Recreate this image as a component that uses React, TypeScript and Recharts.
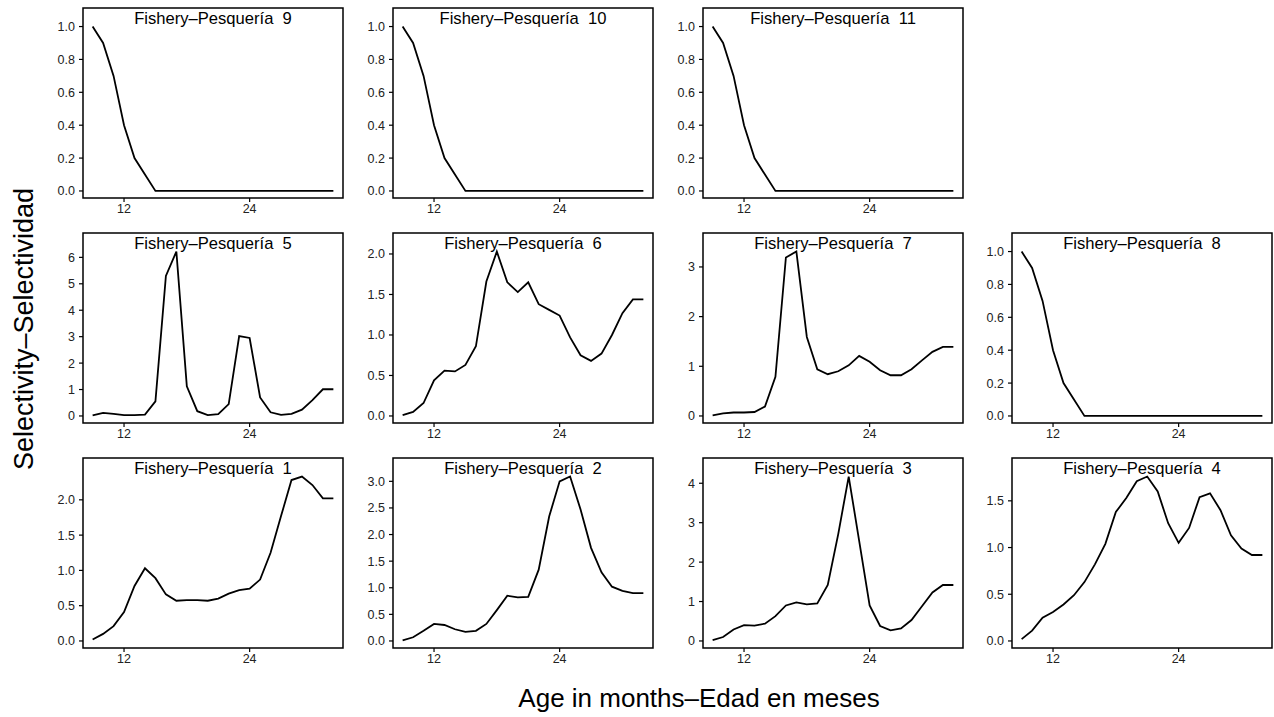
import React from 'react';
import { LineChart, Line, XAxis, YAxis, ReferenceArea } from 'recharts';

// Age in months (x values)
const AGES = [9, 10, 11, 12, 13, 14, 15, 16, 17, 18, 19, 20, 21, 22, 23, 24, 25, 26, 27, 28, 29, 30, 31, 32];

// Selectivity by fishery
const F1 = [0.02, 0.1, 0.21, 0.41, 0.78, 1.03, 0.89, 0.66, 0.57, 0.58, 0.58, 0.57, 0.6, 0.67, 0.72, 0.74, 0.87, 1.25, 1.77, 2.28, 2.33, 2.21, 2.02, 2.02];
const F2 = [0.01, 0.07, 0.19, 0.32, 0.3, 0.22, 0.17, 0.19, 0.32, 0.58, 0.85, 0.82, 0.83, 1.34, 2.34, 3.0, 3.09, 2.47, 1.75, 1.29, 1.02, 0.94, 0.9, 0.9];
const F3 = [0.02, 0.1, 0.29, 0.4, 0.39, 0.44, 0.63, 0.9, 0.98, 0.93, 0.95, 1.42, 2.71, 4.17, 2.54, 0.9, 0.38, 0.27, 0.32, 0.53, 0.88, 1.23, 1.42, 1.42];
const F4 = [0.02, 0.11, 0.25, 0.31, 0.39, 0.49, 0.63, 0.82, 1.04, 1.38, 1.53, 1.71, 1.76, 1.6, 1.26, 1.05, 1.21, 1.54, 1.58, 1.4, 1.13, 0.99, 0.92, 0.92];
const F5 = [0.02, 0.12, 0.08, 0.03, 0.03, 0.05, 0.55, 5.3, 6.22, 1.12, 0.18, 0.03, 0.07, 0.45, 3.02, 2.95, 0.7, 0.14, 0.04, 0.08, 0.24, 0.6, 1.01, 1.01];
const F6 = [0.01, 0.05, 0.16, 0.44, 0.56, 0.55, 0.63, 0.86, 1.66, 2.03, 1.65, 1.53, 1.65, 1.38, 1.31, 1.24, 0.97, 0.75, 0.68, 0.77, 1.0, 1.27, 1.44, 1.44];
const F7 = [0.01, 0.05, 0.07, 0.07, 0.08, 0.19, 0.79, 3.19, 3.31, 1.59, 0.94, 0.84, 0.9, 1.02, 1.21, 1.09, 0.92, 0.82, 0.82, 0.94, 1.12, 1.29, 1.39, 1.39];
const F8 = [1.0, 0.9, 0.7, 0.4, 0.2, 0.1, 0, 0, 0, 0, 0, 0, 0, 0, 0, 0, 0, 0, 0, 0, 0, 0, 0, 0];
const F9 = [1.0, 0.9, 0.7, 0.4, 0.2, 0.1, 0, 0, 0, 0, 0, 0, 0, 0, 0, 0, 0, 0, 0, 0, 0, 0, 0, 0];
const F10 = [1.0, 0.9, 0.7, 0.4, 0.2, 0.1, 0, 0, 0, 0, 0, 0, 0, 0, 0, 0, 0, 0, 0, 0, 0, 0, 0, 0];
const F11 = [1.0, 0.9, 0.7, 0.4, 0.2, 0.1, 0, 0, 0, 0, 0, 0, 0, 0, 0, 0, 0, 0, 0, 0, 0, 0, 0, 0];

// Tick labels
const X_TICKS = [12, 24];
const Y_TICKS_UNIT = [0, 0.2, 0.4, 0.6, 0.8, 1.0];
const Y_TICKS_HALF_2 = [0, 0.5, 1.0, 1.5, 2.0];
const Y_TICKS_HALF_3 = [0, 0.5, 1.0, 1.5, 2.0, 2.5, 3.0];
const Y_TICKS_HALF_15 = [0, 0.5, 1.0, 1.5];
const Y_TICKS_INT_3 = [0, 1, 2, 3];
const Y_TICKS_INT_4 = [0, 1, 2, 3, 4];
const Y_TICKS_INT_6 = [0, 1, 2, 3, 4, 5, 6];

const TITLES = [
  'Fishery–Pesquería\u00a0\u00a01',
  'Fishery–Pesquería\u00a0\u00a02',
  'Fishery–Pesquería\u00a0\u00a03',
  'Fishery–Pesquería\u00a0\u00a04',
  'Fishery–Pesquería\u00a0\u00a05',
  'Fishery–Pesquería\u00a0\u00a06',
  'Fishery–Pesquería\u00a0\u00a07',
  'Fishery–Pesquería\u00a0\u00a08',
  'Fishery–Pesquería\u00a0\u00a09',
  'Fishery–Pesquería\u00a0\u00a010',
  'Fishery–Pesquería\u00a0\u00a011',
];

const PANELS = [
  { title: TITLES[8], values: F9, yTicks: Y_TICKS_UNIT, digits: 1, row: 0, col: 0 },
  { title: TITLES[9], values: F10, yTicks: Y_TICKS_UNIT, digits: 1, row: 0, col: 1 },
  { title: TITLES[10], values: F11, yTicks: Y_TICKS_UNIT, digits: 1, row: 0, col: 2 },
  { title: TITLES[4], values: F5, yTicks: Y_TICKS_INT_6, digits: 0, row: 1, col: 0 },
  { title: TITLES[5], values: F6, yTicks: Y_TICKS_HALF_2, digits: 1, row: 1, col: 1 },
  { title: TITLES[6], values: F7, yTicks: Y_TICKS_INT_3, digits: 0, row: 1, col: 2 },
  { title: TITLES[7], values: F8, yTicks: Y_TICKS_UNIT, digits: 1, row: 1, col: 3 },
  { title: TITLES[0], values: F1, yTicks: Y_TICKS_HALF_2, digits: 1, row: 2, col: 0 },
  { title: TITLES[1], values: F2, yTicks: Y_TICKS_HALF_3, digits: 1, row: 2, col: 1 },
  { title: TITLES[2], values: F3, yTicks: Y_TICKS_INT_4, digits: 0, row: 2, col: 2 },
  { title: TITLES[3], values: F4, yTicks: Y_TICKS_HALF_15, digits: 1, row: 2, col: 3 },
];

const X_DOMAIN: [number, number] = [8.08, 32.92];
const BOX_W = 260;
const BOX_H = 190;
const COL_LEFT = [83, 393, 703, 1012];
const ROW_TOP = [7.5, 232.5, 457.5];
const Y_AXIS_W = 46;
const X_AXIS_H = 24;
const PAD = 2;
const FONT = '"Liberation Sans", Arial, Helvetica, sans-serif';

function Panel({ p }: { p: any }) {
  const data = AGES.map((age, i) => ({ age, v: p.values[i] }));
  const M = Math.max(...p.values);
  const lo = -0.0428 * M;
  const hi = 1.1128 * M;
  return (
    <div
      style={{
        position: 'absolute',
        left: COL_LEFT[p.col] - Y_AXIS_W,
        top: ROW_TOP[p.row] - PAD,
      }}
    >
      <LineChart
        width={BOX_W + Y_AXIS_W + PAD}
        height={BOX_H + X_AXIS_H + PAD}
        data={data}
        margin={{ top: PAD, right: PAD, bottom: 0, left: 0 }}
      >
        <XAxis
          dataKey="age"
          type="number"
          domain={X_DOMAIN}
          ticks={X_TICKS}
          allowDataOverflow
          axisLine={false}
          tickLine={{ stroke: '#000', strokeWidth: 1.2 }}
          tickSize={4}
          tickMargin={2}
          height={X_AXIS_H}
          interval={0}
          tick={{ fontSize: 12.5, fill: '#222', fontFamily: FONT }}
        />
        <YAxis
          type="number"
          domain={[lo, hi]}
          ticks={p.yTicks}
          allowDataOverflow
          axisLine={false}
          tickLine={{ stroke: '#000', strokeWidth: 1.2 }}
          tickSize={4}
          tickMargin={4}
          width={Y_AXIS_W}
          interval={0}
          tickFormatter={(v: number) => v.toFixed(p.digits)}
          tick={{ fontSize: 12.5, fill: '#222', fontFamily: FONT }}
        />
        <ReferenceArea
          x1={X_DOMAIN[0]}
          x2={X_DOMAIN[1]}
          y1={lo}
          y2={hi}
          fill="none"
          fillOpacity={0}
          stroke="#000"
          strokeWidth={1.5}
          ifOverflow="visible"
          label={{
            value: p.title,
            position: 'insideTop',
            offset: 4,
            fontSize: 16.6,
            fill: '#000',
            fontFamily: FONT,
          }}
        />
        <Line
          type="linear"
          dataKey="v"
          stroke="#000"
          strokeWidth={1.8}
          dot={false}
          activeDot={false}
          isAnimationActive={false}
        />
      </LineChart>
    </div>
  );
}

export default function App() {
  return (
    <div
      style={{
        position: 'absolute',
        left: 0,
        top: 0,
        width: 1274,
        height: 717,
        background: '#fff',
        fontFamily: FONT,
        overflow: 'hidden',
      }}
    >
      {PANELS.map((p, i) => (
        <Panel key={i} p={p} />
      ))}
      <svg
        width={1274}
        height={717}
        style={{ position: 'absolute', left: 0, top: 0, pointerEvents: 'none' }}
      >
        <text
          transform="translate(33,329) rotate(-90)"
          textAnchor="middle"
          fontSize={27}
          fill="#000"
          fontFamily={FONT}
        >
          Selectivity–Selectividad
        </text>
        <text x={699} y={707} textAnchor="middle" fontSize={26} fill="#000" fontFamily={FONT}>
          Age in months–Edad en meses
        </text>
      </svg>
    </div>
  );
}
